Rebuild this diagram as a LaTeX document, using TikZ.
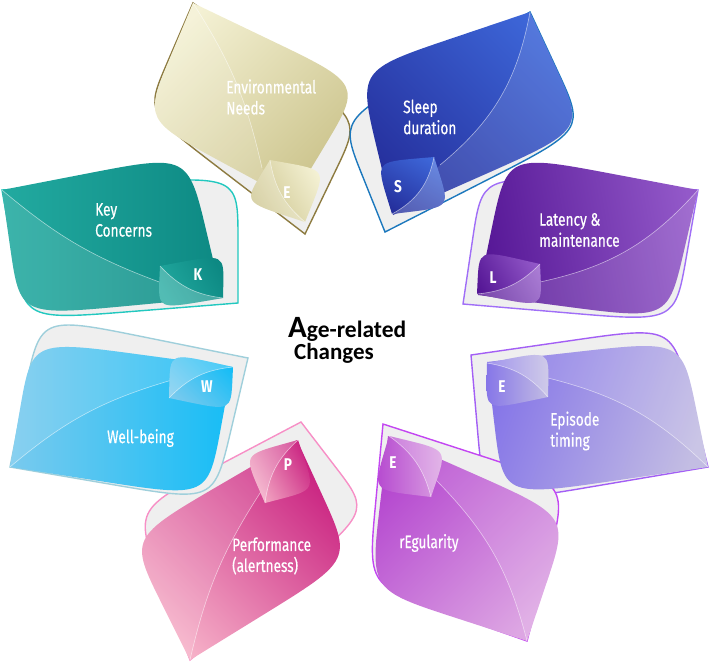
\documentclass[tikz,border=0pt]{standalone}
\usepackage{fontspec}
\setmainfont{Carlito}
\newfontfamily\leaffont[FakeStretch=0.76,FakeBold=0.5]{Fira Sans}
\newfontfamily\letfont[FakeStretch=0.8]{Fira Sans}
\usetikzlibrary{calc}
\definecolor{bggrey}{HTML}{EFEFEF}
\definecolor{envL}{HTML}{F4F1D4}\definecolor{envD}{HTML}{CBC38B}\definecolor{envO}{HTML}{8D7B40}
\definecolor{slpL}{HTML}{3D66D8}\definecolor{slpD}{HTML}{252F9C}\definecolor{slpO}{HTML}{1C78BD}
\definecolor{latL}{HTML}{9359C9}\definecolor{latD}{HTML}{561796}\definecolor{latO}{HTML}{A06EF7}
\definecolor{epiL}{HTML}{C3BDE3}\definecolor{epiD}{HTML}{8676E8}\definecolor{epiO}{HTML}{A35FF5}
\definecolor{regL}{HTML}{DDA6E3}\definecolor{regD}{HTML}{B446CF}\definecolor{regO}{HTML}{C346F2}
\definecolor{perL}{HTML}{F6B1C8}\definecolor{perD}{HTML}{C92180}\definecolor{perO}{HTML}{F78FC6}
\definecolor{welL}{HTML}{79CAEE}\definecolor{welD}{HTML}{16BDF6}\definecolor{welO}{HTML}{9FCFDB}
\definecolor{keyL}{HTML}{22AAA0}\definecolor{keyD}{HTML}{0D8983}\definecolor{keyO}{HTML}{22C8BF}
% leaf path: T0, corner, T1, corner, rounding fraction
\newcommand\leafp[5]{(#1) -- ($(#2)!#5!(#1)$) .. controls (#2) .. ($(#2)!#5!(#3)$) -- (#3) -- ($(#4)!#5!(#3)$) .. controls (#4) .. ($(#4)!#5!(#1)$) -- cycle}
% half of a leaf between vein and one corner: T0, vein start, T1, corner, fraction, bend
\newcommand\halfp[6]{(#1) -- (#2) to[#6] (#3) -- ($(#4)!#5!(#3)$) .. controls (#4) .. ($(#4)!#5!(#1)$) -- cycle}
\tikzset{
  outl/.style={fill=bggrey, draw=#1, line width=1.4pt},
  vein/.style={draw=white, draw opacity=0.55, line width=0.6pt},
  lite/.style={fill=white, fill opacity=0.12},
  slite/.style={fill=white, fill opacity=0.22},
  lbl/.style={text=white, font=\leaffont\fontsize{18}{21}\selectfont, align=left, anchor=west, inner sep=0pt},
  ltr/.style={text=white, font=\letfont\bfseries\fontsize{17}{17}\selectfont, inner sep=0pt},
}
\begin{document}
\begin{tikzpicture}[x=1pt,y=-1pt]
\useasboundingbox (0,0) rectangle (709,662);
% ---------- outlines ----------
\draw[outl=envO] \leafp{305,234}{146,112}{193,3}{360,120}{0.45};
\draw[outl=slpO] \leafp{385,232}{340,120}{530,12}{585,130}{0.5};
\draw[outl=latO] \leafp{463,304}{482,176}{698,190}{675,322}{0.5};
\draw[outl=epiO] \leafp{471,355}{484,505}{708,467}{672,326}{0.5};
\draw[outl=regO] \leafp{383,424}{368,585}{527,641}{568,484}{0.5};
\draw[outl=perO] \leafp{301,422}{134,510}{190,660}{370,512}{0.5};
\draw[outl=welO] \leafp{248,358}{40,316}{10,467}{214,502}{0.5};
\draw[outl=keyO] \leafp{238,303}{25,320}{2,190}{238,176}{0.5};
% ---------- main leaves ----------
% Environmental
\coordinate (e0) at (292,200); \coordinate (eA) at (144,120); \coordinate (e1) at (193,3); \coordinate (eB) at (362,84); \coordinate (ev) at (262,168);
\shade[top color=envL, bottom color=envD, shading angle=45] \leafp{e0}{eA}{e1}{eB}{0.55};
\fill[lite] \halfp{e0}{ev}{e1}{eA}{0.55}{bend right=10};
\draw[vein] (ev) to[bend right=10] (e1);
% Sleep
\coordinate (s0) at (393,215); \coordinate (sA) at (358,70); \coordinate (s1) at (530,12); \coordinate (sB) at (585,130); \coordinate (sv) at (440,165);
\shade[top color=slpL, bottom color=slpD, shading angle=-45] \leafp{s0}{sA}{s1}{sB}{0.55};
\fill[lite] \halfp{s0}{sv}{s1}{sB}{0.55}{bend right=20};
\draw[vein] (sv) to[bend right=20] (s1);
% Latency
\coordinate (l0) at (478,295); \coordinate (lA) at (507,154); \coordinate (l1) at (698,190); \coordinate (lB) at (668,320); \coordinate (lv) at (540,282);
\shade[top color=latL, bottom color=latD, shading angle=-80] \leafp{l0}{lA}{l1}{lB}{0.55};
\fill[lite] \halfp{l0}{lv}{l1}{lB}{0.55}{bend right=18};
\draw[vein] (lv) to[bend right=18] (l1);
% Episode
\coordinate (p0) at (487,362); \coordinate (pA) at (503,497); \coordinate (p1) at (708,467); \coordinate (pB) at (682,340); \coordinate (pv) at (548,378);
\shade[top color=epiL, bottom color=epiD, shading angle=-110] \leafp{p0}{pA}{p1}{pB}{0.55};
\fill[lite] \halfp{p0}{pv}{p1}{pB}{0.55}{bend left=15};
\draw[vein] (pv) to[bend left=15] (p1);
% rEgularity
\coordinate (r0) at (388,436); \coordinate (rA) at (370,590); \coordinate (r1) at (527,641); \coordinate (rB) at (569,516); \coordinate (rv) at (436,480);
\shade[top color=regL, bottom color=regD, shading angle=-135] \leafp{r0}{rA}{r1}{rB}{0.55};
\fill[lite] \halfp{r0}{rv}{r1}{rB}{0.55}{bend left=15};
\draw[vein] (rv) to[bend left=15] (r1);
% Performance
\coordinate (f0) at (297,440); \coordinate (fA) at (129,538); \coordinate (f1) at (190,660); \coordinate (fB) at (352,560); \coordinate (fv) at (262,490);
\shade[top color=perL, bottom color=perD, shading angle=135] \leafp{f0}{fA}{f1}{fB}{0.55};
\fill[lite] \halfp{f0}{fv}{f1}{fA}{0.55}{bend right=10};
\draw[vein] (fv) to[bend right=10] (f1);
% Well-being
\coordinate (w0) at (232,367); \coordinate (wA) at (32,340); \coordinate (w1) at (10,467); \coordinate (wB) at (208,498); \coordinate (wv) at (172,380);
\shade[top color=welL, bottom color=welD, shading angle=90] \leafp{w0}{wA}{w1}{wB}{0.55};
\fill[lite] \halfp{w0}{wv}{w1}{wA}{0.55}{bend right=12};
\draw[vein] (wv) to[bend right=12] (w1);
% Key Concerns
\coordinate (k0) at (222,297); \coordinate (kA) at (20,316); \coordinate (k1) at (2,190); \coordinate (kB) at (188,154); \coordinate (kv) at (162,283);
\shade[top color=keyL, bottom color=keyD, shading angle=90] \leafp{k0}{kA}{k1}{kB}{0.55};
\fill[lite] \halfp{k0}{kv}{k1}{kA}{0.55}{bend left=10};
\draw[vein] (kv) to[bend left=10] (k1);
% ---------- small leaves ----------
\shade[top color=envL, bottom color=envD, shading angle=-60] \leafp{305,222}{244,202}{270,160}{326,170}{0.75};
\fill[slite] \halfp{305,222}{305,222}{270,160}{244,202}{0.75}{bend left=20};
\draw[vein] (305,222) to[bend left=20] (270,160);
\shade[top color=slpL, bottom color=slpD, shading angle=-30] \leafp{392,214}{376,162}{434,157}{450,207}{0.75};
\fill[slite] \halfp{392,214}{392,214}{434,157}{450,207}{0.75}{bend right=25};
\draw[vein] (392,214) to[bend right=25] (434,157);
\shade[top color=latL, bottom color=latD, shading angle=-60] \leafp{477,294}{479,250}{540,264}{542,307}{0.75};
\fill[slite] \halfp{477,294}{477,294}{540,264}{542,307}{0.75}{bend right=20};
\draw[vein] (477,294) to[bend right=20] (540,264);
\shade[top color=epiL, bottom color=epiD, shading angle=-90] \leafp{487,363}{549,351}{548,397}{486,410}{0.75};
\fill[slite] \halfp{487,363}{487,363}{548,397}{549,351}{0.75}{bend left=20};
\draw[vein] (487,363) to[bend left=20] (548,397);
\shade[top color=regL, bottom color=regD, shading angle=-90] \leafp{389,436}{447,450}{431,497}{373,490}{0.75};
\fill[slite] \halfp{389,436}{389,436}{431,497}{447,450}{0.75}{bend left=20};
\draw[vein] (389,436) to[bend left=20] (431,497);
\shade[top color=perL, bottom color=perD, shading angle=120] \leafp{298,440}{315,490}{265,503}{244,455}{0.75};
\fill[slite] \halfp{298,440}{298,440}{265,503}{244,455}{0.75}{bend right=20};
\draw[vein] (298,440) to[bend right=20] (265,503);
\shade[top color=welL, bottom color=welD, shading angle=135] \leafp{233,367}{170,353}{169,398}{231,411}{0.75};
\fill[slite] \halfp{233,367}{233,367}{169,398}{170,353}{0.75}{bend right=20};
\draw[vein] (233,367) to[bend right=20] (169,398);
\shade[top color=keyL, bottom color=keyD, shading angle=120] \leafp{223,298}{224,254}{160,266}{158,309}{0.75};
\fill[slite] \halfp{223,298}{223,298}{160,266}{158,309}{0.75}{bend left=20};
\draw[vein] (223,298) to[bend left=20] (160,266);
% ---------- letters ----------
\node[ltr] (lE1) at (287,193) {E};
\node[ltr] (lS) at (398,187) {S};
\node[ltr] (lL) at (493,278) {L};
\node[ltr] (lE2) at (502,387) {E};
\node[ltr] (lE3) at (393,463) {E};
\node[ltr] (lP) at (288,465) {P};
\node[ltr] (lW) at (207,387) {W};
\node[ltr] (lK) at (198,275) {K};
% ---------- labels ----------
\node[lbl] (tEnv) at (226,97) {Environmental\\Needs};
\node[lbl] (tSlp) at (403,117) {Sleep\\duration};
\node[lbl] (tLat) at (539,230) {Latency \&\\maintenance};
\node[lbl] (tEpi) at (550,431) {Episode\\timing};
\node[lbl] (tReg) at (399,543) {rEgularity};
\node[lbl] (tPer) at (232,556) {Performance\\(alertness)};
\node[lbl] (tWel) at (107,438) {Well-being};
\node[lbl] (tKey) at (95,220) {Key\\Concerns};
% ---------- centre ----------
\node[anchor=base west, inner sep=0pt] (c1) at (288,337) {\bfseries{\fontsize{31}{31}\selectfont A}{\fontsize{23.5}{23.5}\selectfont ge-related}};
\node[anchor=base, inner sep=0pt] (c2) at (334,359) {\bfseries\fontsize{23}{23}\selectfont Changes};
\end{tikzpicture}
\end{document}
